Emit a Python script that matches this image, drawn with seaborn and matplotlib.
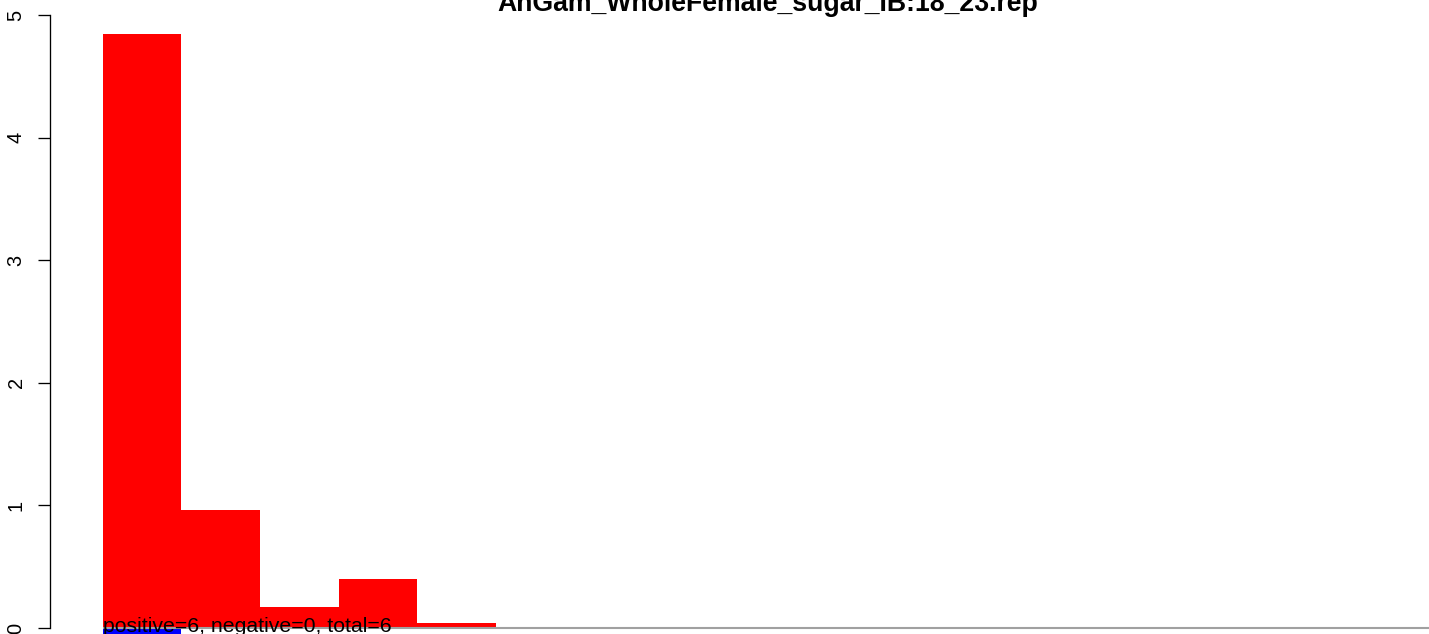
import seaborn as sns
import matplotlib
matplotlib.use("Agg")
import matplotlib.pyplot as plt

# values
title = "AnGam_WholeFemale_sugar_IB:18_23.rep"
bin_labels = ["1", "2", "3", "4", "5"]
positive_density = [4.845, 0.962, 0.171, 0.40, 0.041]
negative_density = [-0.06, 0.0, 0.0, 0.0, 0.0]
n_positive = 6
n_negative = 0
y_ticks = [0, 1, 2, 3, 4, 5]

sns.set_style("white")
plt.rcParams['font.family'] = ['Liberation Sans', 'DejaVu Sans']
plt.rcParams['text.color'] = 'black'

W, H = 1429, 634
fig = plt.figure(figsize=(W / 100, H / 100), dpi=100)
# plot region: y axis at x=50px, runs past the right edge
ax = fig.add_axes([50 / W, 0, (W - 50) / W, 1])

sns.barplot(x=bin_labels, y=positive_density, color="red", saturation=1,
            width=1, linewidth=0, ax=ax)
sns.barplot(x=bin_labels, y=negative_density, color="blue", saturation=1,
            width=1, linewidth=0, ax=ax)

# pixel scale: 122.6 px per unit on y, 78.5 px per bin on x
px_y = 122.6
px_x = 78.5
ax.set_ylim(-6 / px_y, 5 + 15 / px_y)
x_left = -0.5 - 53 / px_x
x_right = x_left + (W - 50) / px_x
ax.set_xlim(x_left, x_right)

ax.hlines(0, -0.5, x_right, color="#a0a0a0", lw=1.5, zorder=5)

ax.text(-0.5, -4 / px_y,
        f"positive={n_positive}, negative={n_negative}, total={n_positive + n_negative}",
        fontsize=15.3, va="baseline", ha="left", color="black", zorder=6)

for s in ["top", "right", "bottom"]:
    ax.spines[s].set_visible(False)
ax.spines["left"].set_bounds(0, 5)
ax.spines["left"].set_linewidth(0.95)
ax.spines["left"].set_color("black")
ax.set_xticks([])
ax.set_yticks(y_ticks)
ax.set_yticklabels([str(t) for t in y_ticks], rotation=90, va="center")
ax.tick_params(axis="y", left=True, length=8.6, width=0.95, pad=9,
               labelsize=14.4, colors="black")
ax.set_xlabel("")
ax.set_ylabel("")

fig.text(768 / W, (H - 11) / H, title, ha="center", va="baseline",
         fontsize=19.2, fontweight="bold", color="black")

fig.savefig("out.png", dpi=100)
